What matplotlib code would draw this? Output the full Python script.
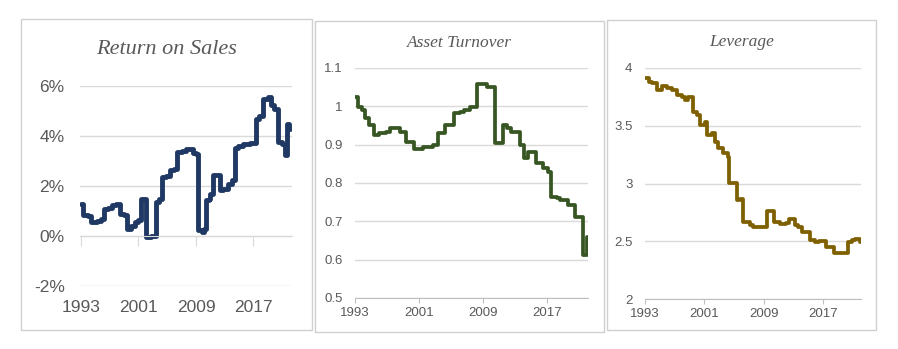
import matplotlib
matplotlib.use("Agg")
import matplotlib.pyplot as plt
from matplotlib.patches import Rectangle
from matplotlib.ticker import FuncFormatter

# ---------------- data ----------------
ros_year = [1993.0, 1993.3, 1994.0, 1994.4, 1995.2, 1995.8, 1996.2, 1996.8, 1997.3, 1997.8,
            1998.4, 1999.0, 1999.4, 2000.0, 2000.5, 2001.0, 2001.4, 2001.7, 2002.1, 2002.7,
            2003.4, 2003.8, 2004.3, 2004.8, 2005.4, 2005.9, 2006.3, 2007.0, 2007.6, 2008.2,
            2008.6, 2009.0, 2009.3, 2009.8, 2010.1, 2010.4, 2010.8, 2011.0, 2011.3, 2012.3,
            2012.8, 2013.5, 2014.0, 2014.4, 2014.9, 2015.5, 2016.0, 2016.5, 2017.3, 2017.7,
            2018.3, 2019.0, 2019.5, 2019.9, 2020.4, 2020.9, 2021.4, 2021.6, 2021.9, 2022.1]
ros_val = [1.3, 0.85, 0.8, 0.57, 0.62, 0.68, 1.07, 1.12, 1.25, 1.3,
           0.9, 0.85, 0.3, 0.4, 0.55, 0.65, 1.47, 1.5, -0.05, 0.0,
           1.37, 1.5, 2.35, 2.4, 2.64, 2.7, 3.37, 3.42, 3.47, 3.5,
           3.32, 3.3, 0.24, 0.17, 0.3, 1.44, 1.5, 1.7, 2.44, 1.84,
           1.9, 2.1, 2.25, 3.53, 3.6, 3.7, 3.68, 3.72, 4.7, 4.8,
           5.5, 5.55, 5.24, 5.1, 3.77, 3.7, 3.24, 4.5, 4.3, 4.3]

at_year = [1993.0, 1993.4, 1993.9, 1994.3, 1994.7, 1995.4, 1996.0, 1996.9, 1997.4, 1998.6,
           1999.4, 2000.4, 2001.5, 2002.7, 2003.3, 2004.2, 2005.3, 2006.1, 2006.6, 2007.3,
           2008.25, 2009.4, 2010.4, 2011.4, 2012.0, 2012.5, 2013.6, 2014.1, 2014.6, 2015.6,
           2016.5, 2017.1, 2017.4, 2018.2, 2018.6, 2019.6, 2020.4, 2021.4, 2021.95, 2022.05]
at_val = [1.024, 0.999, 0.99, 0.969, 0.951, 0.925, 0.931, 0.933, 0.943, 0.934,
          0.908, 0.890, 0.895, 0.899, 0.930, 0.951, 0.982, 0.986, 0.99, 0.999,
          1.058, 1.051, 0.904, 0.951, 0.943, 0.934, 0.899, 0.864, 0.882, 0.851,
          0.838, 0.830, 0.764, 0.760, 0.756, 0.743, 0.712, 0.612, 0.66, 0.66]

lev_year = [1993.0, 1993.5, 1994.0, 1994.6, 1995.25, 1996.0, 1996.6, 1997.35, 1998.0, 1998.4,
            1998.8, 1999.5, 2000.0, 2000.4, 2001.1, 2001.4, 2002.0, 2002.4, 2002.9, 2003.5,
            2004.2, 2004.35, 2005.35, 2005.8, 2006.2, 2007.15, 2007.6, 2009.4, 2010.4, 2011.2,
            2012.0, 2012.45, 2013.2, 2013.65, 2014.1, 2015.2, 2015.9, 2016.5, 2017.4, 2018.4,
            2020.3, 2020.9, 2021.3, 2022.0, 2022.1]
lev_val = [3.911, 3.88, 3.868, 3.81, 3.844, 3.824, 3.81, 3.766, 3.745, 3.723,
           3.745, 3.62, 3.59, 3.506, 3.53, 3.42, 3.44, 3.362, 3.31, 3.26,
           3.232, 3.007, 2.857, 2.87, 2.67, 2.64, 2.626, 2.765, 2.67, 2.65,
           2.655, 2.69, 2.645, 2.626, 2.583, 2.51, 2.49, 2.5, 2.453, 2.396,
           2.49, 2.51, 2.52, 2.49, 2.49]

year_ticks = [1993, 2001, 2009, 2017]
ros_ticks = [-2, 0, 2, 4, 6]
at_ticks = [0.5, 0.6, 0.7, 0.8, 0.9, 1.0, 1.1]
at_labels = ["0.5", "0.6", "0.7", "0.8", "0.9", "1", "1.1"]
lev_ticks = [2, 2.5, 3, 3.5, 4]
lev_labels = ["2", "2.5", "3", "3.5", "4"]

titles = ["Return on Sales", "Asset Turnover", "Leverage"]

# ---------------- style ----------------
W, H = 898, 349
plt.rcParams['font.family'] = ['Liberation Sans', 'DejaVu Sans']
TXT = "#595959"
GRID = "#D9D9D9"
AXL = "#BFBFBF"

fig = plt.figure(figsize=(W / 100, H / 100), dpi=100)
fig.patch.set_facecolor("white")


def fx(px):
    return px / W


def fy(py):
    return 1 - py / H


# panel borders (x0, y0, x1, y1 in pixels)
panels = [(21, 19, 312, 330), (315, 21, 604, 332), (607, 20, 876, 330)]
for (x0, y0, x1, y1) in panels:
    fig.patches.append(Rectangle((fx(x0), fy(y1)), fx(x1) - fx(x0), fy(y0) - fy(y1),
                                 transform=fig.transFigure, fill=False,
                                 edgecolor="#D0D0D0", linewidth=1.0))

# axes rectangles in pixels (left, top, right, bottom)
ax_px = [(80, 86, 292, 286), (355, 68, 588, 298), (645, 68, 861, 299)]
axes = []
for (l, t, r, b) in ax_px:
    ax = fig.add_axes([fx(l), fy(b), fx(r) - fx(l), fy(t) - fy(b)])
    axes.append(ax)

# ---- Panel 1: Return on Sales ----
ax = axes[0]
ax.step(ros_year, ros_val, where='post', color="#1F3864", linewidth=3.5,
        solid_joinstyle='round', solid_capstyle='round')
ax.set_xlim(1992.86, 2022.36)
ax.set_ylim(-2, 6)
ax.set_yticks(ros_ticks)
ax.yaxis.set_major_formatter(FuncFormatter(lambda v, p: f"{v:.0f}%"))
ax.grid(axis='y', color=GRID, linewidth=1.0)
ax.set_axisbelow(True)
for s in ['top', 'right', 'left']:
    ax.spines[s].set_visible(False)
ax.spines['bottom'].set_position(('data', 0))
ax.spines['bottom'].set_color(GRID)
ax.set_xticks(year_ticks)
ax.tick_params(axis='x', direction='out', length=7, color=GRID, labelbottom=False)
ax.tick_params(axis='y', length=0, labelsize=12.5, labelcolor=TXT, pad=11)
sec = ax.secondary_xaxis(0)
sec.set_xticks(year_ticks)
sec.set_xticklabels([str(y) for y in year_ticks])
sec.tick_params(length=0, labelsize=12.5, labelcolor=TXT, pad=10)
sec.spines['bottom'].set_visible(False)

# ---- Panel 2: Asset Turnover ----
ax = axes[1]
ax.step(at_year, at_val, where='post', color="#375623", linewidth=2.7,
        solid_joinstyle='round', solid_capstyle='round')
ax.set_xlim(1993, 2022.05)
ax.set_ylim(0.5, 1.1)
ax.set_yticks(at_ticks)
ax.set_yticklabels(at_labels)
ax.set_xticks(year_ticks)
ax.set_xticklabels([str(y) for y in year_ticks])

# ---- Panel 3: Leverage ----
ax3 = axes[2]
ax3.step(lev_year, lev_val, where='post', color="#7F6000", linewidth=2.7,
         solid_joinstyle='round', solid_capstyle='round')
ax3.set_xlim(1993, 2022.1)
ax3.set_ylim(2, 4)
ax3.set_yticks(lev_ticks)
ax3.set_yticklabels(lev_labels)
ax3.set_xticks(year_ticks)
ax3.set_xticklabels([str(y) for y in year_ticks])

for a in axes[1:]:
    a.grid(axis='y', color=GRID, linewidth=1.0)
    a.set_axisbelow(True)
    for s in ['top', 'right', 'left']:
        a.spines[s].set_visible(False)
    a.spines['bottom'].set_color(AXL)
    a.tick_params(axis='x', direction='out', length=3.5, color=AXL,
                  labelsize=9.5, labelcolor=TXT, pad=3)
    a.tick_params(axis='y', length=0, labelsize=9.5, labelcolor=TXT, pad=9)

# titles centred over panels
title_pos = [(166.5, 50, 16), (459.5, 43, 12.5), (741.5, 42, 12.5)]
for t, (x, y, s) in zip(titles, title_pos):
    fig.text(fx(x), fy(y), t, ha='center', va='center', fontsize=s,
             family=['Liberation Serif', 'DejaVu Serif'], style='italic', color=TXT)

fig.savefig("out.png", dpi=100, facecolor="white")
